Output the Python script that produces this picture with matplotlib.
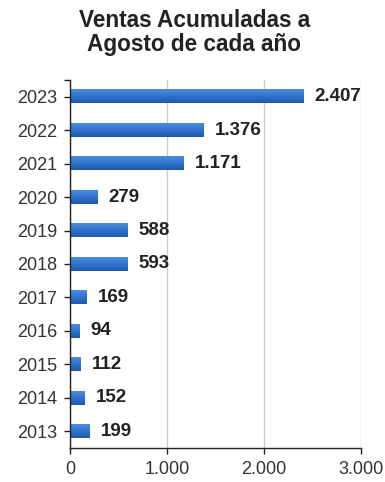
import numpy as np
import matplotlib
matplotlib.use("Agg")
import matplotlib.pyplot as plt
from matplotlib.colors import LinearSegmentedColormap

years = ["2013", "2014", "2015", "2016", "2017", "2018", "2019", "2020", "2021", "2022", "2023"]
ventas = [199, 152, 112, 94, 169, 593, 588, 279, 1171, 1376, 2407]
value_labels = ["199", "152", "112", "94", "169", "593", "588", "279", "1.171", "1.376", "2.407"]
x_ticks = [0, 1000, 2000, 3000]
x_tick_labels = ["0", "1.000", "2.000", "3.000"]
title = "Ventas Acumuladas a\nAgosto de cada año"

plt.rcParams["font.family"] = ["Liberation Sans", "DejaVu Sans"]

fig = plt.figure(figsize=(3.85, 4.82), dpi=100)
ax = fig.add_axes([70 / 385, 34 / 482, 291 / 385, 368 / 482])

bar_h = 0.4
pos = np.arange(len(years))
bars = ax.barh(pos, ventas, height=bar_h, color="#2f6fc4", edgecolor="none", zorder=2)

# vertical gradient fill for each bar, lighter on top, darker at the bottom
grad = LinearSegmentedColormap.from_list("barblue", ["#1d58ad", "#3273cc", "#4a8de0"])
gradient = np.linspace(0, 1, 64).reshape(-1, 1)
for b in bars:
    x0, y0 = b.get_x(), b.get_y()
    w, h = b.get_width(), b.get_height()
    b.set_facecolor("none")
    ax.imshow(gradient, cmap=grad, aspect="auto", origin="lower",
              extent=(x0, x0 + w, y0, y0 + h), zorder=2, interpolation="bilinear")

for p, v, lab in zip(pos, ventas, value_labels):
    ax.annotate(lab, xy=(v, p), xytext=(8, 0), textcoords="offset points",
                ha="left", va="center", fontsize=13.5, fontweight="bold", color="#222222")

ax.set_xlim(0, 3000)
ax.set_ylim(-0.5, len(years) - 0.5)
ax.set_xticks(x_ticks)
ax.set_xticklabels(x_tick_labels)
ax.set_yticks(pos)
ax.set_yticklabels(years)
ax.set_yticks([len(years) - 0.5], minor=True)

ax.grid(axis="x", color="#cccccc", linewidth=1, zorder=0)
ax.set_axisbelow(True)
for s in ["top", "right"]:
    ax.spines[s].set_visible(False)
for s in ["left", "bottom"]:
    ax.spines[s].set_color("#222222")
    ax.spines[s].set_linewidth(1)

ax.tick_params(axis="y", which="both", length=4, width=1, color="#222222", labelsize=13,
               labelcolor="#333333", pad=5)
ax.tick_params(axis="x", length=4, width=1, color="#222222", labelsize=13,
               labelcolor="#333333", pad=5)

fig.text(0.505, 0.982, title, ha="center", va="top", fontsize=16.3,
         fontweight="bold", color="#222222", linespacing=1.1)

fig.savefig("out.png", dpi=100)
